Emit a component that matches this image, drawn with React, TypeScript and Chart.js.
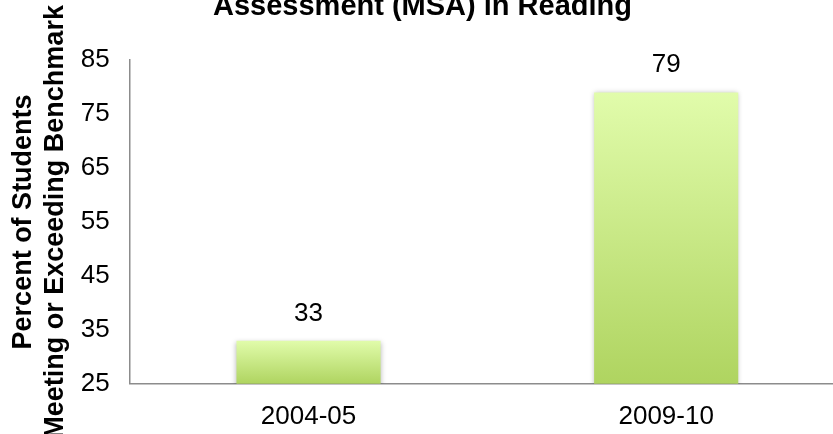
import React, { useEffect, useRef } from "react";
import { Chart, registerables } from "chart.js";

Chart.register(...registerables);

const categories = ["2004-05", "2009-10"];
const values = [33, 79];
const yMin = 25;
const yMax = 85;
const yStep = 10;
const chartTitle = "Assessment (MSA) in Reading";
const yTitle = ["Percent of Students", "Meeting or Exceeding Benchmark"];

const FONT = "'Liberation Sans', Arial, sans-serif";

export default function App() {
  const ref = useRef<HTMLCanvasElement>(null);

  useEffect(() => {
    const canvas = ref.current!;

    const titlePlugin = {
      id: "topTitle",
      afterDraw(chart: any) {
        const ctx = chart.ctx;
        ctx.save();
        ctx.font = `bold 29px ${FONT}`;
        ctx.fillStyle = "#000";
        ctx.textAlign = "center";
        ctx.textBaseline = "alphabetic";
        ctx.fillText(chartTitle, chart.width / 2, 15);
        ctx.restore();
      },
    };

    const shadowPlugin = {
      id: "barShadow",
      beforeDatasetsDraw(chart: any) {
        const ctx = chart.ctx;
        ctx.save();
        ctx.shadowColor = "rgba(0,0,0,0.28)";
        ctx.shadowBlur = 5;
        ctx.shadowOffsetX = 0;
        ctx.shadowOffsetY = 1;
      },
      afterDatasetsDraw(chart: any) {
        chart.ctx.restore();
      },
    };

    const labelPlugin = {
      id: "valueLabels",
      afterDatasetsDraw(chart: any) {
        const ctx = chart.ctx;
        const meta = chart.getDatasetMeta(0);
        ctx.save();
        ctx.font = `26px ${FONT}`;
        ctx.fillStyle = "#000";
        ctx.textAlign = "center";
        ctx.textBaseline = "alphabetic";
        meta.data.forEach((el: any, i: number) => {
          ctx.fillText(String(values[i]), el.x, el.y - 20);
        });
        ctx.restore();
      },
    };

    const chart = new Chart(canvas, {
      type: "bar",
      data: {
        labels: categories,
        datasets: [
          {
            data: values,
            backgroundColor: (c: any) => {
              const ch = c.chart;
              const y = ch.scales?.y;
              if (!ch.chartArea || !y || c.dataIndex === undefined) return "#c8e688";
              const top = y.getPixelForValue(values[c.dataIndex]);
              const bottom = y.getPixelForValue(yMin);
              const g = ch.ctx.createLinearGradient(0, top, 0, bottom);
              g.addColorStop(0, "#e1fcab");
              g.addColorStop(1, "#afd460");
              return g;
            },
            borderWidth: 0,
            categoryPercentage: 1,
            barPercentage: 0.403,
          },
        ],
      },
      options: {
        responsive: false,
        animation: false,
        layout: { padding: { top: 60, right: 0, bottom: 0, left: 6 } },
        plugins: {
          legend: { display: false },
          tooltip: { enabled: false },
          title: { display: false },
        },
        scales: {
          x: {
            grid: { display: false, drawTicks: false },
            border: { display: true, color: "#8c8c8c", width: 1.5 },
            ticks: { color: "#000", font: { family: FONT, size: 26 }, padding: 17 },
          },
          y: {
            min: yMin,
            max: yMax,
            grid: { display: false, drawTicks: false },
            border: { display: true, color: "#8c8c8c", width: 1.5 },
            ticks: {
              stepSize: yStep,
              color: "#000",
              font: { family: FONT, size: 26 },
              padding: 20,
            },
            title: {
              display: true,
              text: yTitle,
              color: "#000",
              font: { family: FONT, size: 27, weight: "bold", lineHeight: 1.2 },
              padding: { top: 1, bottom: -11 },
            },
          },
        },
      },
      plugins: [titlePlugin, shadowPlugin, labelPlugin],
    } as any);

    return () => chart.destroy();
  }, []);

  return (
    <div
      style={{
        position: "fixed",
        left: 0,
        top: 0,
        width: 833,
        height: 434,
        overflow: "hidden",
        background: "#fff",
      }}
    >
      <canvas
        ref={ref}
        width={845}
        height={449}
        style={{ width: 845, height: 449, display: "block" }}
      />
    </div>
  );
}
